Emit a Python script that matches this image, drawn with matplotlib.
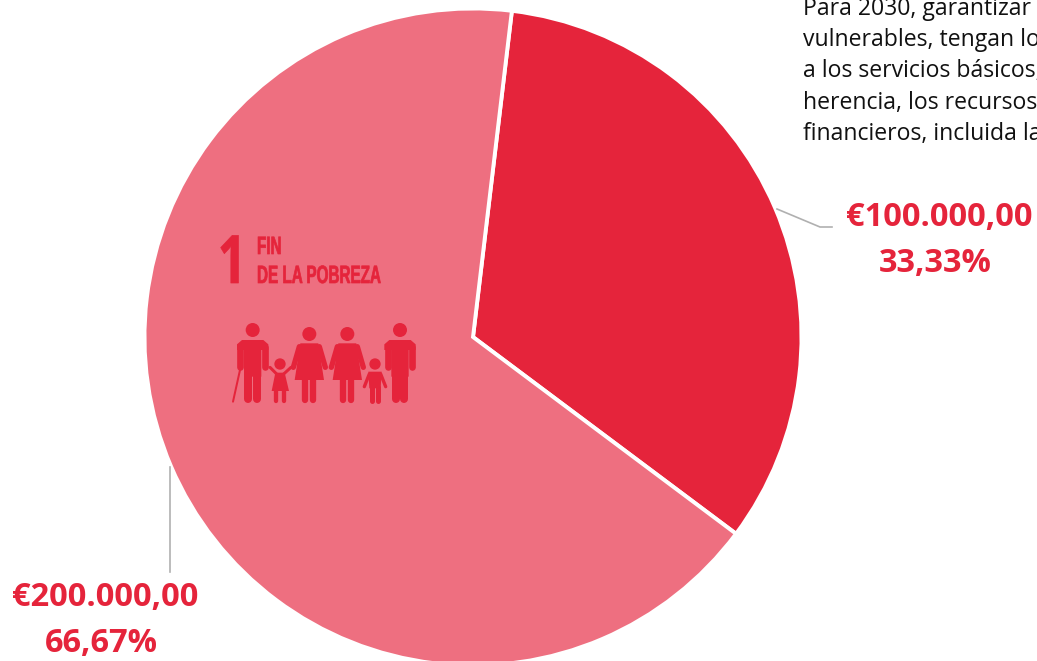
import matplotlib
matplotlib.use("Agg")
import matplotlib.pyplot as plt
from matplotlib.patches import Circle, Polygon
from matplotlib.patheffects import AbstractPathEffect
from matplotlib.transforms import Affine2D

W, H, DPI = 1037, 661, 100
values = [100000, 200000]
colors = ["#E5243B", "#EE6F80"]
value_labels = ["€100.000,00", "€200.000,00"]
pct_labels = ["33,33%", "66,67%"]
body_lines = ["Para 2030, garantizar", "vulnerables, tengan lo", "a los servicios básicos,",
              "herencia, los recursos", "financieros, incluida la"]
RED = "#E5243B"


class Squeeze(AbstractPathEffect):
    """Narrow a text horizontally about a pixel column (no condensed font is installed)."""
    def __init__(self, x0, sx, grow=0.0):
        super().__init__()
        self.x0, self.sx, self.grow = x0, sx, grow

    def draw_path(self, renderer, gc, tpath, affine, rgbFace=None):
        t = affine + Affine2D().translate(-self.x0, 0).scale(self.sx, 1).translate(self.x0, 0)
        g = renderer.new_gc()
        g.copy_properties(gc)
        g.set_linewidth(self.grow)
        g.set_foreground(RED)
        renderer.draw_path(g, tpath, t, rgbFace)
        g.restore()


fig = plt.figure(figsize=(W / DPI, H / DPI), dpi=DPI, facecolor="white")
cx, cy, r = 473, 337, 328.5
ax = fig.add_axes([(cx - r) / W, 1 - (cy + r) / H, 2 * r / W, 2 * r / H])
ax.pie(values, colors=colors, startangle=83.2, counterclock=False, radius=1,
       wedgeprops=dict(edgecolor="white", linewidth=2.8))
ax.set_xlim(-1, 1); ax.set_ylim(-1, 1)
ax.axis("off")

ov = fig.add_axes([0, 0, 1, 1], zorder=5)
ov.set_xlim(0, W); ov.set_ylim(H, 0); ov.axis("off")
ov.patch.set_alpha(0)

# leader lines
ov.plot([777, 820, 832], [209, 227, 227], color="#B0B0B0", lw=1.2)
ov.plot([170, 170], [467, 572], color="#B0B0B0", lw=1.2)

# body text, cut by the figure edges as in the reference
for y, s in zip([9, 40, 71, 103, 134], body_lines):
    ov.text(803, y, s, family="Open Sans", fontsize=16.6, color="#111111", va="center", ha="left")

# value labels
for (x, y1, y2), a, b in zip([(939, 218, 263), (105, 598, 643)], value_labels, pct_labels):
    ov.text(x, y1, a, family="Open Sans", weight="bold", fontsize=23.5, color=RED, ha="center", va="center")
    ov.text(x - 4, y2, b, family="Open Sans", weight="bold", fontsize=23.5, color=RED, ha="center", va="center")

# SDG 1 title
ov.text(232, 283, "1", family="Open Sans", weight="bold", fontsize=48, color=RED,
        ha="center", va="baseline", path_effects=[Squeeze(232, 0.75, 0.5)])
ov.text(257, 254, "FIN", family="Liberation Sans", weight="bold", fontsize=18, color=RED,
        ha="left", va="baseline", path_effects=[Squeeze(257, 0.61, 0.5)])
ov.text(257, 283, "DE LA POBREZA", family="Liberation Sans", weight="bold", fontsize=18, color=RED,
        ha="left", va="baseline", path_effects=[Squeeze(257, 0.61, 0.5)])

# pictogram, drawn in the coordinates of a 3x crop at (200, 210)
def Z(x, y):
    return 200 + x / 3, 210 + y / 3

def stroke(p, q, w):
    a, b = Z(*p), Z(*q)
    ov.plot([a[0], b[0]], [a[1], b[1]], color=RED, lw=w / 3 * 72 / DPI, solid_capstyle="round")

def head(x, y, rad):
    ov.add_patch(Circle(Z(x, y), rad / 3, color=RED, lw=0))

def poly(pts):
    ov.add_patch(Polygon([Z(*p) for p in pts], closed=True, color=RED, lw=0))

def man(c, cane=False):
    head(c, 360, 21)
    poly([(c - 32, 390), (c + 32, 390), (c + 47, 403), (c + 47, 420), (c + 26, 420), (c + 26, 500),
          (c - 26, 500), (c - 26, 420), (c - 47, 420), (c - 47, 403)])
    stroke((c - 37, 412), (c - 37, 470), 20)
    stroke((c + 37, 412), (c + 37, 470), 20)
    stroke((c - 13, 490), (c - 13, 568), 24)
    stroke((c + 13, 490), (c + 13, 568), 24)
    if cane:
        stroke((c - 38, 480), (c - 59, 575), 6)

def woman(c):
    head(c, 372, 21)
    poly([(c - 27, 400), (c + 27, 400), (c + 44, 510), (c - 44, 510)])
    stroke((c - 30, 410), (c - 48, 472), 16)
    stroke((c + 30, 410), (c + 48, 472), 16)
    stroke((c - 12, 510), (c - 12, 570), 19)
    stroke((c + 12, 510), (c + 12, 570), 19)

man(158, cane=True); man(600)
woman(328); woman(442)
# girl
head(240, 462, 17)
poly([(226, 488), (254, 488), (267, 543), (215, 543)])
stroke((231, 493), (210, 472), 9); stroke((250, 493), (273, 472), 9)
stroke((229, 543), (229, 572), 13); stroke((252, 543), (252, 572), 13)
# boy
head(525, 462, 17)
poly([(505, 485), (545, 485), (542, 535), (508, 535)])
stroke((508, 492), (493, 530), 10); stroke((542, 492), (557, 530), 10)
stroke((516, 530), (516, 572), 15); stroke((534, 530), (534, 572), 15)

fig.savefig("out.png", dpi=DPI)
